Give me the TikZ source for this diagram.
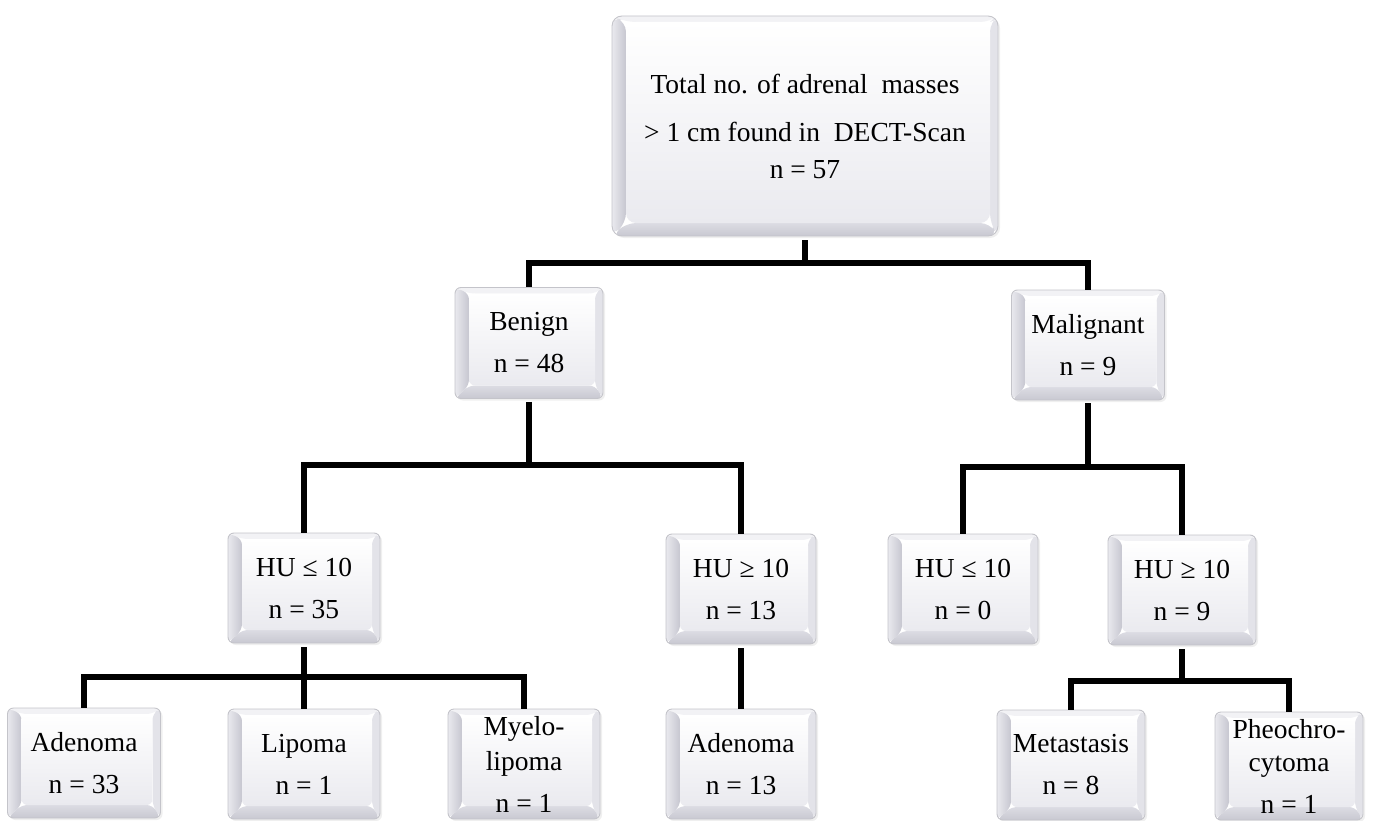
\documentclass[tikz,border=0pt]{standalone}
\usepackage{fontspec}
\setmainfont{Liberation Serif}
\usetikzlibrary{shadows}
\definecolor{bvtop}{HTML}{F2F2F5}
\definecolor{bvright}{HTML}{E3E3E9}
\definecolor{bvbotA}{HTML}{DCDCE3}
\definecolor{bvbotB}{HTML}{C8C8D1}
\definecolor{bvleftA}{HTML}{E9E9EE}
\definecolor{bvleftB}{HTML}{C6C6D0}
\definecolor{bvface}{HTML}{EAEAEF}
\definecolor{bvedge}{HTML}{C4C4CA}
\newcommand\bxfont{\fontsize{27.5}{42}\selectfont}
\tikzset{
  bevel/.style={rectangle, rounded corners=6pt, draw=bvedge, line width=0.9pt,
    align=center, inner sep=0pt, font=\bxfont,
    minimum width=150pt, minimum height=110pt,
    drop shadow={opacity=0.12, shadow xshift=2pt, shadow yshift=-2pt},
    path picture={
      \coordinate (bsw) at (path picture bounding box.south west);
      \coordinate (bne) at (path picture bounding box.north east);
      \coordinate (bnw) at (bsw |- bne);
      \coordinate (bse) at (bne |- bsw);
      \coordinate (inw) at ([xshift=14pt,yshift=-6pt]bnw);
      \coordinate (ine) at ([xshift=-8pt,yshift=-6pt]bne);
      \coordinate (ise) at ([xshift=-8pt,yshift=13pt]bse);
      \coordinate (isw) at ([xshift=14pt,yshift=13pt]bsw);
      \fill[white] (bsw) rectangle (bne);
      \fill[bvtop] (bnw) -- (bne) -- (ine) -- (inw) -- cycle;
      \fill[bvright] (bne) -- (bse) -- (ise) -- (ine) -- cycle;
      \shade[top color=bvbotA, bottom color=bvbotB] (bsw) -- (bse) -- (ise) -- (isw) -- cycle;
      \shade[left color=bvleftA, right color=bvleftB] (bnw) -- (bsw) -- (isw) -- (inw) -- cycle;
      \shade[top color=white, bottom color=bvface] (inw) rectangle (ise);
    }},
  bigbox/.style={bevel, rounded corners=10pt, minimum width=386pt, minimum height=220pt},
  conn/.style={line width=5.5pt, line join=miter, draw=black},
}
\begin{document}
\begin{tikzpicture}[x=1pt, y=-1pt]
\useasboundingbox (0,0) rectangle (1375,821);
\fill[white] (0,0) rectangle (1375,821);

% nodes
\node[bigbox] (total) at (805,126) {Total no. of adrenal\enspace masses\\[6pt]> 1 cm found in\enspace DECT-Scan\\[-5pt]n = 57};
\node[bevel, minimum width=148pt, minimum height=111pt] (benign) at (529,343) {Benign\\n = 48};
\node[bevel, minimum width=153pt] (malig) at (1088,345) {Malignant\\n = 9};

\node[bevel, minimum width=152pt] (hu35) at (304,588) {HU ≤ 10\\n = 35};
\node[bevel] (hu13) at (741,589) {HU ≥ 10\\n = 13};
\node[bevel] (hu0) at (963,589) {HU ≤ 10\\n = 0};
\node[bevel, minimum width=148pt] (hu9) at (1182,590) {HU ≥ 10\\n = 9};

\node[bevel, minimum width=153pt] (aden33) at (84,763) {Adenoma\\n = 33};
\node[bevel, minimum width=152pt] (lipoma) at (304,764) {Lipoma\\n = 1};
\node[bevel, minimum width=152pt] (myelo) at (524,764) {Myelo-\\[-7pt]lipoma\\n = 1};
\node[bevel] (aden13) at (741,764) {Adenoma\\n = 13};
\node[bevel, minimum width=148pt] (metas) at (1071,765) {Metastasis\\n = 8};
\node[bevel, minimum width=148pt, minimum height=108pt] (pheo) at (1289,766) {Pheochro-\\[-9pt]cytoma\\n = 1};

% junctions
\coordinate (j1) at (805,263);
\coordinate (j2) at (529,465);
\coordinate (j3) at (1088,467);
\coordinate (j4) at (304,677);
\coordinate (j5) at (1182,681);

% connectors
\draw[conn, shorten <=4pt] (total.south) -- (j1);
\draw[conn] (benign.north) |- (j1) -| (malig.north);

\draw[conn, shorten <=3pt] (benign.south) -- (j2);
\draw[conn] (hu35.north) |- (j2) -| (hu13.north);

\draw[conn, shorten <=3pt] (malig.south) -- (j3);
\draw[conn] (hu0.north) |- (j3) -| (hu9.north);

\draw[conn, shorten <=4pt] (hu35.south) -- (j4);
\draw[conn] (aden33.north) |- (j4) -| (myelo.north);
\draw[conn] (j4) -- (lipoma.north);

\draw[conn, shorten <=4pt] (hu13.south) -- (aden13.north);

\draw[conn, shorten <=4pt] (hu9.south) -- (j5);
\draw[conn] (metas.north) |- (j5) -| (pheo.north);
\end{tikzpicture}
\end{document}
